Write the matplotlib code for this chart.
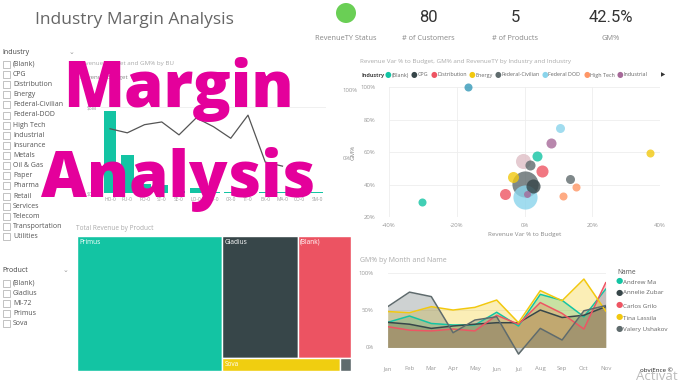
import matplotlib
matplotlib.use('Agg')
import matplotlib.pyplot as plt
from matplotlib.patches import Rectangle, Ellipse
import numpy as np

plt.rcParams['font.family'] = ['Open Sans', 'DejaVu Sans']

# ---------------- data ----------------
title = 'Industry Margin Analysis'
kpi_values = ['80', '5', '42.5%']
kpi_labels = ['# of Customers', '# of Products', 'GM%']
status_label = 'RevenueTY Status'

industries = ['(Blank)', 'CPG', 'Distribution', 'Energy', 'Federal-Civilian', 'Federal-DOD',
              'High Tech', 'Industrial', 'Insurance', 'Metals', 'Oil & Gas', 'Paper', 'Pharma',
              'Retail', 'Services', 'Telecom', 'Transportation', 'Utilities']
products = ['(Blank)', 'Gladius', 'MI-72', 'Primus', 'Sova']

bu_codes = ['HO-0', 'PU-0', 'PO-0', 'ST-0', 'SE-0', 'LO-0', 'FU-0', 'CR-0', 'TT-0', 'EX-0',
            'MA-0', 'CO-0', 'SM-0']
bu_revenue = [4.77, 2.2, 0.5, 0.45, 0.12, 0.3, 0.08, 0.06, 0.05, 0.05, 0.04, 0.03, 0.03]
bu_gm = [43, 37, 49, 53, 34, 59, 46, 29, 63, -6, -12]

sc_legend = ['(Blank)', 'CPG', 'Distribution', 'Energy', 'Federal-Civilian', 'Federal DOD',
             'High Tech', 'Industrial']
sc_industry = ['(Blank)', '(Blank)', 'Insurance', 'Federal DOD', 'Federal DOD', 'Industrial',
               'Industrial', 'Energy', 'Energy', 'Metals', 'Federal-Civilian', 'Federal-Civilian',
               'Federal-Civilian', 'Distribution', 'Distribution', 'CPG', 'High Tech', 'High Tech']
sc_var = [-30.4, 3.7, -16.6, 10.4, 0.2, 7.8, 0.8, 37.1, -3.5, -0.5, 1.5, 13.4, 0.2, 5.1, -5.8,
          2.5, 15.3, 11.4]
sc_gm = [29.2, 57.5, 100.0, 74.8, 32.3, 65.7, 34.0, 59.6, 44.4, 54.3, 52.2, 43.6, 40.5, 48.3,
         34.0, 39.1, 38.5, 32.9]
sc_rev = [1.6, 2.5, 1.6, 2.0, 14.4, 2.5, 1.2, 1.6, 3.0, 5.6, 2.5, 2.0, 16.9, 3.6, 3.0, 4.9,
          1.6, 1.6]

tm_products = ['Primus', 'Gladius', '(Blank)', 'Sova', 'MI-72']
tm_revenue = [53.1, 24.8, 17.6, 4.1, 0.4]

months = ['Jan', 'Feb', 'Mar', 'Apr', 'May', 'Jun', 'Jul', 'Aug', 'Sep', 'Oct', 'Nov']
names = ['Andrew Ma', 'Annelie Zubar', 'Carlos Grilo', 'Tina Lassila', 'Valery Ushakov']
gm_andrew = [33.5, 42, 32, 30, 30, 47, 28.6, 71, 63, 41, 78]
gm_annelie = [33.5, 31, 25.4, 28.6, 31, 33, 33, 50, 40, 43, 54.5]
gm_carlos = [27.7, 23, 22, 24.5, 22, 43, 31, 60, 45.5, 24.5, 86.6]
gm_tina = [48, 46.4, 54.5, 50, 53.6, 63.4, 33, 76, 62.5, 91.5, 48.7]
gm_valery = [54.5, 74, 68, 19.6, 36.6, 41, -9, 25.4, 9.8, 49, 56]

# ---------------- styles ----------------
C = {'(Blank)': '#13C4A3', 'CPG': '#374649', 'Distribution': '#EE5563', 'Energy': '#F2C80F',
     'Federal-Civilian': '#5F6B6D', 'Federal DOD': '#8AD4EB', 'High Tech': '#FE9666',
     'Industrial': '#A66999', 'Insurance': '#3599B8', 'Metals': '#DFBFC6'}
tm_colors = ['#13C4A3', '#374649', '#EC5362', '#F0CE10', '#5F6B6D']
area_colors = ['#13C4A3', '#374649', '#EE5563', '#F2C80F', '#5F6B6D']
MAG = '#E4009B'
GRAY = '#999999'

W, H = 680, 383
fig = plt.figure(figsize=(6.8, 3.83), dpi=100)
fig.patch.set_facecolor('white')


def add_ax(x0, y0, x1, y1, **kw):
    return fig.add_axes([x0 / W, 1 - y1 / H, (x1 - x0) / W, (y1 - y0) / H], **kw)


def txt(x, y, s, **kw):
    kw.setdefault('va', 'center')
    return fig.text(x / W, 1 - y / H, s, **kw)


def clean(ax, size=4.3):
    for sp in ax.spines.values():
        sp.set_visible(False)
    ax.tick_params(length=0, colors=GRAY, labelsize=size)


# ---------------- header ----------------
txt(35, 20, title, fontsize=12.5, color='#666666')
fig.add_artist(Ellipse((346 / W, 1 - 13 / H), 20 / W, 20 / H, transform=fig.transFigure,
                       color='#6ACF55', lw=0))
txt(346, 38, status_label, fontsize=5.3, color='#888888', ha='center')
for cx, v, lab in zip([428, 515, 611], kpi_values, kpi_labels):
    txt(cx, 18, v, fontsize=12, color='#333333', ha='center', family=['Roboto', 'DejaVu Sans'])
    txt(cx, 38, lab, fontsize=5.3, color='#888888', ha='center')

# ---------------- slicers ----------------
def slicer(head, y_head, items, y0, step, caret_x):
    txt(2, y_head, head, fontsize=5, color='#444444')
    txt(caret_x, y_head, '⌄', fontsize=5, color='#999999', ha='center')
    for i, it in enumerate(items):
        y = y0 + i * step
        fig.add_artist(Rectangle((3 / W, 1 - (y + 3.5) / H), 7 / W, 7 / H,
                                 transform=fig.transFigure, fill=False,
                                 edgecolor='#AAAAAA', lw=0.5))
        txt(13, y, it, fontsize=5, color='#555555')


slicer('Industry', 52, industries, 64.3, 10.14, 72)
slicer('Product', 271, products, 283.3, 10, 66)

# ---------------- bar + line combo ----------------
axb = add_ax(101.4, 90, 325.6, 193)
clean(axb, 3.6)
xb = np.arange(len(bu_codes))
axb.bar(xb, bu_revenue, width=0.75, color='#13C4A3', zorder=2)
axb.set_xlim(-0.5, len(bu_codes) - 0.5)
axb.set_ylim(0, 6)
axb.set_yticks([0, 5])
axb.set_yticklabels(['$0M', '$5M'])
axb.grid(axis='y', color='#EEEEEE', lw=0.6)
axb.set_axisbelow(True)
axb.set_xticks(xb)
axb.set_xticklabels(bu_codes, fontsize=3.5)
axb.tick_params(axis='x', pad=3)
axl = axb.twinx()
clean(axl, 4.3)
axl.plot(np.arange(len(bu_gm)), bu_gm, color='#555555', lw=0.9)
axl.set_ylim(-51.5, 100)
axl.set_yticks([0, 100])
axl.set_yticklabels(['0%', '100%'])
axl.tick_params(axis='y', pad=12)
txt(78, 63, 'Revenue Budget and GM% by BU', fontsize=4.5, color='#AAAAAA')
txt(80, 77, 'Revenue Budget  ● GM%', fontsize=4.5, color='#888888')

# ---------------- scatter ----------------
axs = add_ax(389, 87, 660, 217)
clean(axs, 4.3)
order = np.argsort(sc_rev)[::-1]
for i in order:
    axs.scatter(sc_var[i], sc_gm[i], s=sc_rev[i] * 21, color=C[sc_industry[i]], alpha=0.8,
                lw=0, clip_on=False, zorder=3)
axs.set_xlim(-40, 40)
axs.set_ylim(20, 100)
axs.set_xticks([-40, -20, 0, 20, 40])
axs.set_xticklabels(['-40%', '-20%', '0%', '20%', '40%'])
axs.set_yticks([20, 40, 60, 80, 100])
axs.set_yticklabels(['20%', '40%', '60%', '80%', '100%'])
axs.grid(color='#EEEEEE', lw=0.6)
axs.set_axisbelow(True)
axs.tick_params(axis='x', pad=4)
axs.tick_params(axis='y', pad=10)
axs.set_xlabel('Revenue Var % to Budget', fontsize=4.5, color='#888888', labelpad=3)
axs.set_ylabel('GM%', fontsize=4.5, color='#888888', labelpad=3)
txt(360, 62, 'Revenue Var % to Budget, GM% and RevenueTY by Industry and Industry',
    fontsize=4.5, color='#AAAAAA')
txt(361, 75, 'Industry', fontsize=4, color='#444444', weight='bold')
for lx, name in zip([388, 414, 434, 472, 498, 545, 587, 620], sc_legend):
    txt(lx, 75, '●', fontsize=5.5, color=C[name], ha='center')
    txt(lx + 3.5, 75, name, fontsize=3.9, color='#666666')
txt(663, 75, '▶', fontsize=4, color='#333333', ha='center')

# ---------------- treemap ----------------
axt = add_ax(76.7, 236, 351, 371)
axt.set_axis_off()
axt.set_xlim(0, 1)
axt.set_ylim(1, 0)
tot = sum(tm_revenue)
w0 = tm_revenue[0] / tot
rest = tot - tm_revenue[0]
top = tm_revenue[1] + tm_revenue[2]
bot = tm_revenue[3] + tm_revenue[4]
htop = top / rest
rects = [(0, 0, w0, 1),
         (w0, 0, (1 - w0) * tm_revenue[1] / top, htop),
         (w0 + (1 - w0) * tm_revenue[1] / top, 0, (1 - w0) * tm_revenue[2] / top, htop),
         (w0, htop, (1 - w0) * tm_revenue[3] / bot, 1 - htop),
         (w0 + (1 - w0) * tm_revenue[3] / bot, htop, (1 - w0) * tm_revenue[4] / bot, 1 - htop)]
for (x, y, w, h), c, lab in zip(rects, tm_colors, tm_products):
    axt.add_patch(Rectangle((x, y), w, h, facecolor=c, edgecolor='white', lw=1))
    if lab != 'MI-72':
        axt.text(x + 0.008, y + (0.045 if h > 0.5 else h / 2), lab, fontsize=4.7,
                 color='white', va='center')
txt(76, 229, 'Total Revenue by Product', fontsize=4.7, color='#AAAAAA')

# ---------------- area chart ----------------
axa = add_ax(387.7, 269, 605.7, 356.3)
clean(axa, 4.3)
xm = np.arange(len(months))
for vals, c in zip([gm_andrew, gm_annelie, gm_carlos, gm_tina, gm_valery], area_colors):
    axa.fill_between(xm, 0, vals, color=c, alpha=0.3, lw=0)
    axa.plot(xm, vals, color=c, lw=1.1)
axa.set_xlim(0, len(months) - 1)
axa.set_ylim(-12, 105)
axa.set_xticks(xm)
axa.set_xticklabels(months)
axa.set_yticks([0, 50, 100])
axa.set_yticklabels(['0%', '50%', '100%'])
axa.grid(axis='y', color='#EEEEEE', lw=0.6)
axa.set_axisbelow(True)
axa.tick_params(axis='x', pad=7)
axa.tick_params(axis='y', pad=10)
txt(360, 261, 'GM% by Month and Name', fontsize=5, color='#AAAAAA')
txt(617, 272, 'Name', fontsize=4.8, color='#555555')
for ly, nm, c in zip([282, 293, 306, 318, 330], names, area_colors):
    txt(619, ly, '●', fontsize=6, color=c, ha='center')
    txt(623, ly, nm, fontsize=4.5, color='#666666')

txt(640, 370, 'obviEnce ©', fontsize=4.5, color='#222222')
txt(636, 377, 'Activat', fontsize=9.5, color='#BBBBBB')

# ---------------- overlay text ----------------
txt(178, 107, 'Margin', fontsize=45.5, color=MAG, weight=800, ha='center', va='baseline')
txt(178, 197, 'Analysis', fontsize=45.5, color=MAG, weight=800, ha='center', va='baseline')

fig.savefig('out.png', dpi=100, facecolor='white')
